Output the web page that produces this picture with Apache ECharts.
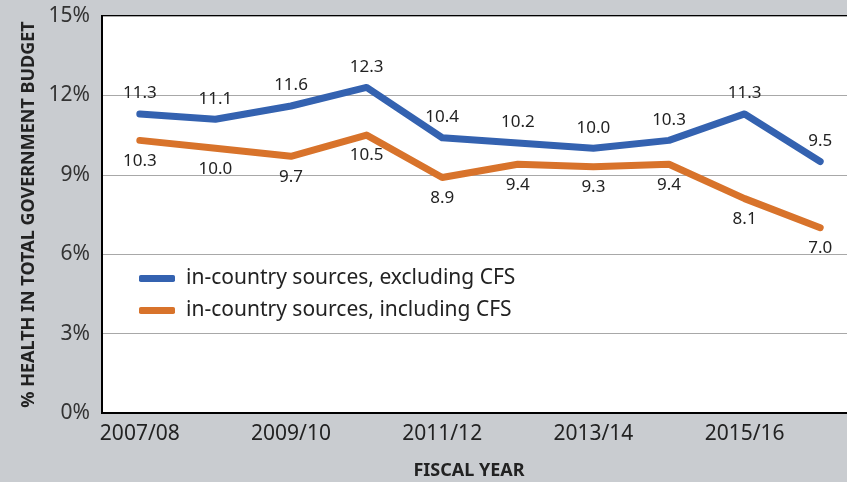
<!DOCTYPE html>
<html>
<head>
<meta charset="utf-8">
<script src="https://cdn.jsdelivr.net/npm/echarts@6/dist/echarts.min.js"></script>
<style>
  html, body { margin: 0; padding: 0; background: #c9ccd0; }
  #chart { width: 847px; height: 482px; }
</style>
</head>
<body>
<div id="chart"></div>
<script>
const years = ['2007/08', '2008/09', '2009/10', '2010/11', '2011/12', '2012/13', '2013/14', '2014/15', '2015/16', '2016/17']
const excludingCfs = [11.3, 11.1, 11.6, 12.3, 10.4, 10.2, 10.0, 10.3, 11.3, 9.5]
const includingCfs = [10.3, 10.0, 9.7, 10.5, 8.9, 9.4, 9.3, 9.4, 8.1, 7.0]
const yTicks = [0, 3, 6, 9, 12, 15]

const font = 'Noto Sans'
const chart = echarts.init(document.getElementById('chart'))

const option = {
  backgroundColor: '#c9ccd0',
  animation: false,
  textStyle: { fontFamily: font },
  title: {
    text: 'FISCAL YEAR',
    left: 464,
    top: 457,
    textAlign: 'center',
    textStyle: { fontFamily: font, fontSize: 18, fontWeight: 'bold', color: '#222' }
  },
  grid: {
    left: 102,
    right: -11,
    top: 16,
    bottom: 69,
    outerBoundsMode: 'none',
    show: true,
    backgroundColor: '#fff',
    borderColor: '#000',
    borderWidth: 2
  },
  legend: {
    orient: 'vertical',
    left: 134,
    top: 263,
    itemGap: 11,
    itemWidth: 36,
    itemHeight: 7,
    icon: 'roundRect',
    textStyle: { fontFamily: font, fontSize: 21, color: '#222', padding: [0, 0, 0, 6] },
    data: ['in-country sources, excluding CFS', 'in-country sources, including CFS']
  },
  xAxis: {
    type: 'category',
    data: years,
    boundaryGap: true,
    axisLine: { lineStyle: { color: '#000', width: 2 } },
    axisTick: { interval: 0, alignWithLabel: true, length: 6, lineStyle: { color: '#000', width: 2 } },
    axisLabel: { interval: 1, fontSize: 21, color: '#222', margin: 11, fontFamily: font }
  },
  yAxis: {
    type: 'value',
    min: yTicks[0],
    max: yTicks[yTicks.length - 1],
    interval: 3,
    name: '% HEALTH IN TOTAL GOVERNMENT BUDGET',
    nameLocation: 'middle',
    nameGap: 64,
    nameTextStyle: { fontFamily: font, fontSize: 18, fontWeight: 'bold', color: '#222' },
    axisLine: { show: true, lineStyle: { color: '#000', width: 2 } },
    axisTick: { show: false },
    axisLabel: { formatter: '{value}%', fontSize: 21, color: '#333', margin: 12, fontFamily: font },
    splitLine: { lineStyle: { color: '#a8a8a8', width: 1 } }
  },
  series: [
    {
      name: 'in-country sources, excluding CFS',
      type: 'line',
      data: excludingCfs,
      symbol: 'circle',
      symbolSize: 0,
      itemStyle: { color: '#3462b0' },
      lineStyle: { color: '#3462b0', width: 7, cap: 'round', join: 'round' },
      label: {
        show: true,
        position: 'top',
        distance: 12,
        fontSize: 17,
        color: '#222',
        fontFamily: font,
        formatter: p => p.value.toFixed(1)
      },
      z: 3
    },
    {
      name: 'in-country sources, including CFS',
      type: 'line',
      data: includingCfs,
      symbol: 'circle',
      symbolSize: 0,
      itemStyle: { color: '#d8732b' },
      lineStyle: { color: '#d8732b', width: 7, cap: 'round', join: 'round' },
      label: {
        show: true,
        position: 'bottom',
        distance: 12,
        fontSize: 17,
        color: '#222',
        fontFamily: font,
        formatter: p => p.value.toFixed(1)
      },
      z: 2
    }
  ]
}

chart.setOption(option)
</script>
</body>
</html>
